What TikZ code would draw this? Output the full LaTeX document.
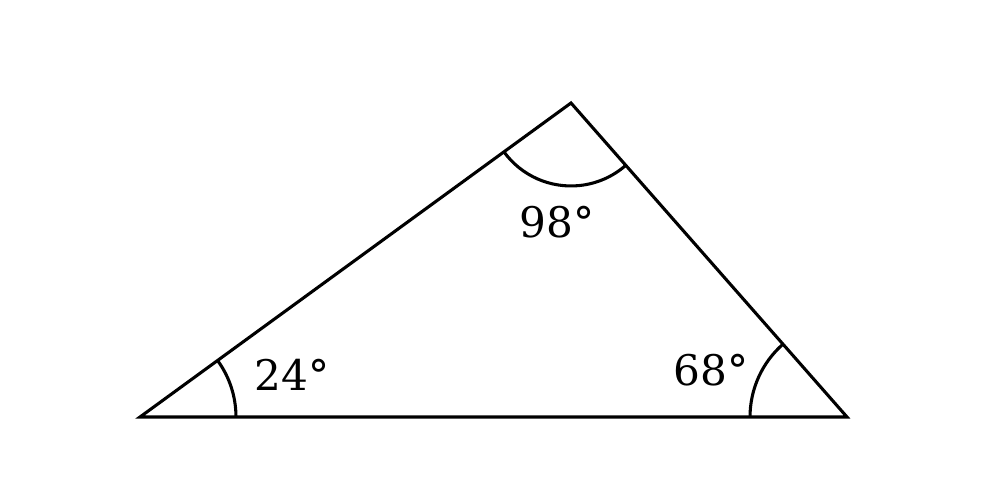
\documentclass[tikz,border=0pt]{standalone}
\usepackage{fontspec}
\setmainfont{DejaVu Serif}
\usepackage{tikz}

\begin{document}
\begin{tikzpicture}[x=0.02cm, y=0.02cm, line width=1.75pt,
    anglelabel/.style={font=\fontsize{24}{28}\selectfont, inner sep=0pt}]

\useasboundingbox (0,0) rectangle (1001,486);

\coordinate (A) at (140,69);
\coordinate (B) at (847,69);
\coordinate (C) at (571,383);

\draw (A) -- (B) -- (C) -- cycle;

\draw ([xshift=1.92cm]A) arc [start angle=0, end angle=36.08, radius=1.92cm];
\draw ([xshift=-1.94cm]B) arc [start angle=180, end angle=131.31, radius=1.94cm];
\draw (C) ++(216.08:1.66cm) arc [start angle=216.08, end angle=311.31, radius=1.66cm];

\node[anglelabel] (a) at (292,111) {24°};
\node[anglelabel] (b) at (711,116) {68°};
\node[anglelabel] (c) at (557,264) {98°};

\end{tikzpicture}
\end{document}
